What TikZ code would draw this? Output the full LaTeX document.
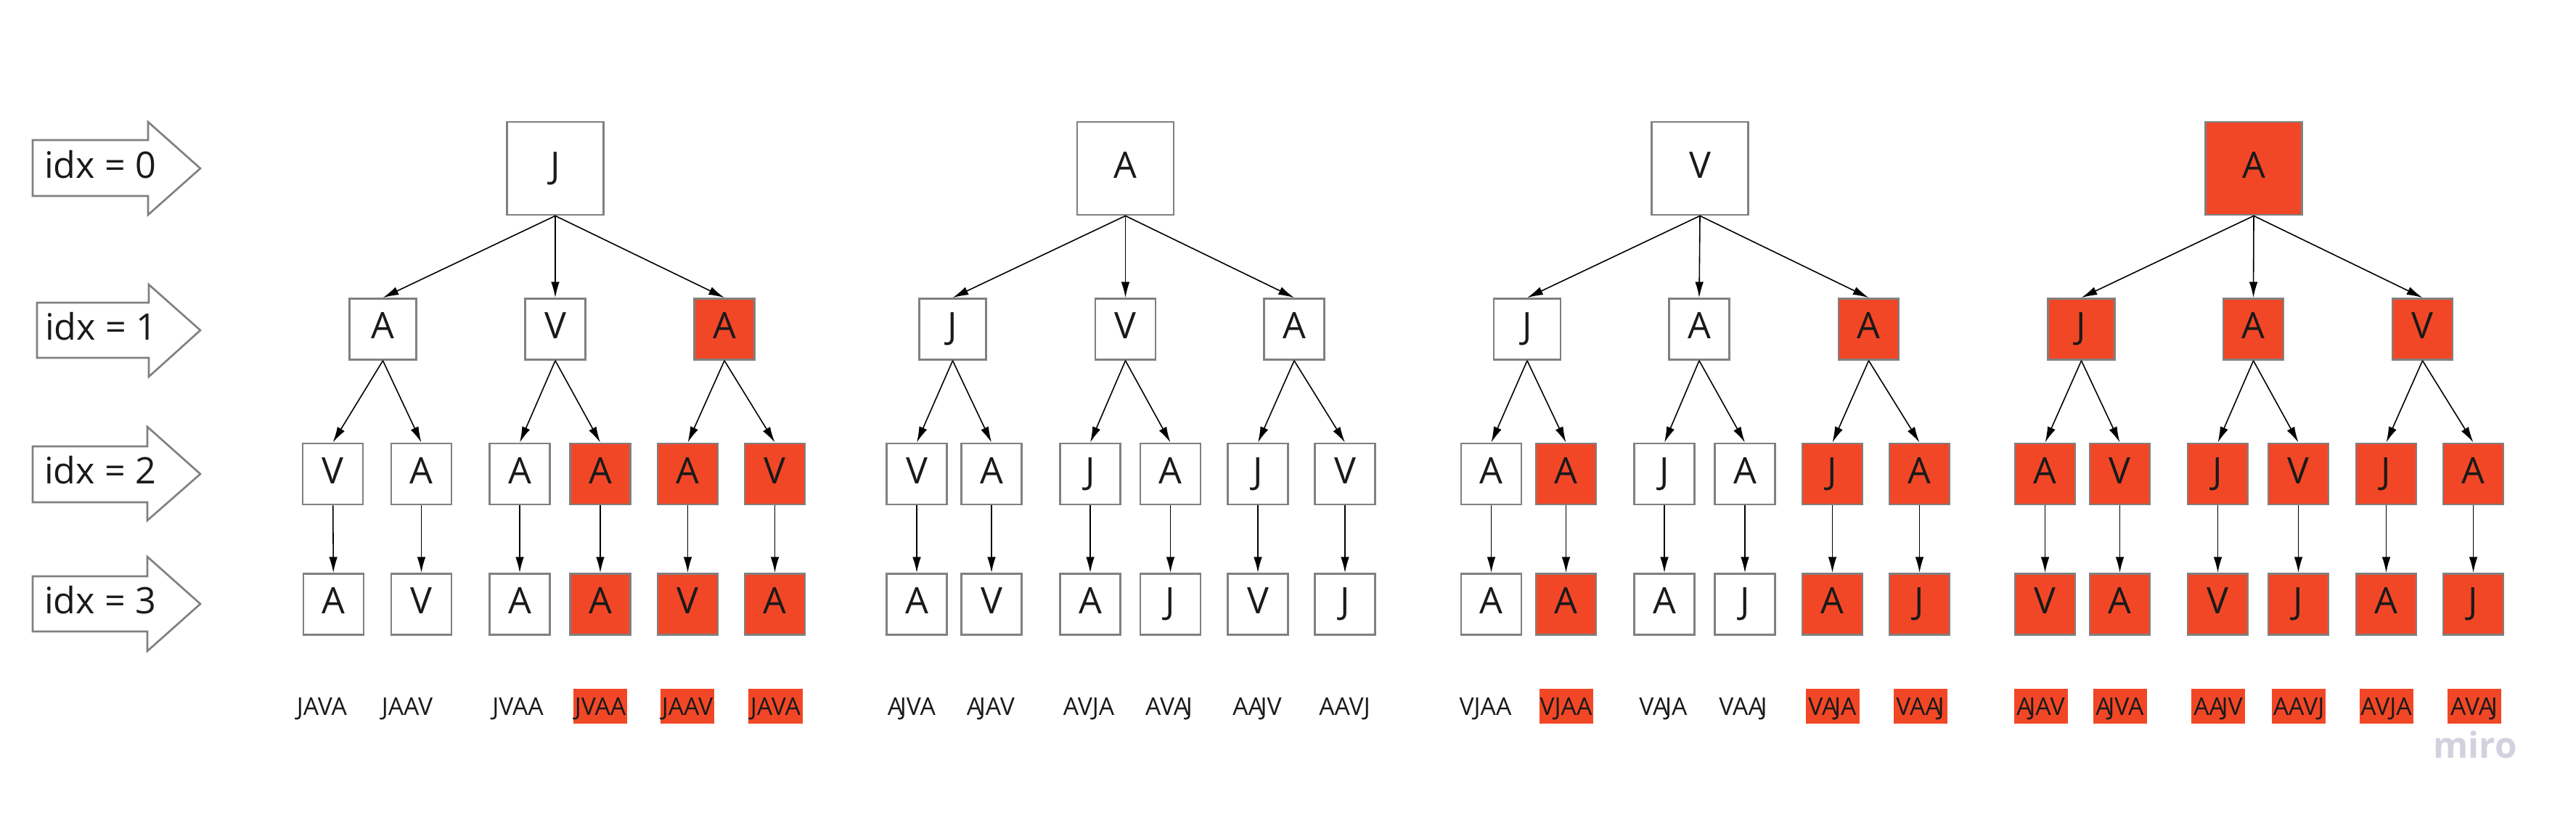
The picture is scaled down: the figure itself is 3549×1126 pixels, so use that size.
\documentclass[tikz,border=0pt]{standalone}
\usepackage{fontspec}
\setmainfont{Open Sans}
\usetikzlibrary{arrows.meta}
\definecolor{miroRed}{HTML}{F24726}
\definecolor{boxGray}{HTML}{808080}
\definecolor{inkBlack}{HTML}{1A1A1A}
\definecolor{miroMark}{HTML}{D2D2DE}
\newcommand\letterfont{\fontsize{14.3pt}{17pt}\selectfont}
\newcommand\wordfont{\fontsize{9.6pt}{11pt}\selectfont}
\newcommand\aj{A\kern-0.13em J}
\tikzset{
  box/.style={draw=boxGray, line width=0.75pt, fill=white, inner sep=0pt,
    minimum width=0.83cm, minimum height=0.84cm, font=\letterfont,
    text=inkBlack, text height=10.3pt, text depth=2.85pt},
  rootbox/.style={box, minimum width=1.33cm, minimum height=1.28cm},
  widebox/.style={box, minimum width=0.92cm},
  hit/.style={fill=miroRed},
  word/.style={inner sep=0pt, font=\wordfont, text=inkBlack, text height=6.85pt,
    text depth=0pt, minimum width=0.74cm, minimum height=0.48cm},
  hitword/.style={word, fill=miroRed},
  arr/.style={-{Latex[length=6.2pt,width=3.3pt]}, line width=0.45pt, draw=black},
  idxshape/.style={draw=boxGray, line width=0.75pt, fill=white},
  idxtext/.style={font=\letterfont, text=inkBlack, inner sep=0pt,
    text height=10.8pt, text depth=3.4pt}
}

\begin{document}
\begin{tikzpicture}[x=0.01cm, y=-0.01cm]
  \path[use as bounding box, fill=white] (0,0) rectangle (3549,1126);

  % level markers
  \draw[idxshape] (45,193) -- (204,193) -- (204,168) -- (276,232) -- (204,296) -- (204,270) -- (45,270) -- cycle;
  \node[idxtext] (idx0) at (138,232) {idx = 0};
  \draw[idxshape] (51,417) -- (205,417) -- (205,392) -- (276,455) -- (205,519) -- (205,493) -- (51,493) -- cycle;
  \node[idxtext] (idx1) at (139,455) {idx = 1};
  \draw[idxshape] (45,615) -- (203,615) -- (203,588) -- (276,653) -- (203,717) -- (203,692) -- (45,692) -- cycle;
  \node[idxtext] (idx2) at (138,653) {idx = 2};
  \draw[idxshape] (45,794) -- (203,794) -- (203,767) -- (276,832) -- (203,897) -- (203,870) -- (45,870) -- cycle;
  \node[idxtext] (idx3) at (138,832) {idx = 3};

  % tree J
  \node[rootbox] (t1) at (765,232) {J};
  \node[widebox] (t1a) at (527.5,453.5) {A};
  \node[box] (t1b) at (765,453.5) {V};
  \node[box,hit] (t1c) at (998,453.5) {A};
  \node[box] (t1a1) at (458.5,653) {V};
  \node[box] (t1a2) at (580.5,653) {A};
  \node[box] (t1b1) at (716,653) {A};
  \node[box,hit] (t1b2) at (827,653) {A};
  \node[box,hit] (t1c1) at (947.5,653) {A};
  \node[box,hit] (t1c2) at (1067.5,653) {V};
  \node[box] (t1a1d) at (459.5,832.5) {A};
  \node[box] (t1a2d) at (580.5,832.5) {V};
  \node[box] (t1b1d) at (716,832.5) {A};
  \node[box,hit] (t1b2d) at (827,832.5) {A};
  \node[box,hit] (t1c1d) at (947.5,832.5) {V};
  \node[box,hit] (t1c2d) at (1067.5,832.5) {A};
  \node[word] (w1a1) at (443.5,973) {JAVA};
  \node[word] (w1a2) at (561,973) {JAAV};
  \node[word] (w1b1) at (713.5,973) {JVAA};
  \node[hitword] (w1b2) at (827,973) {JVAA};
  \node[hitword] (w1c1) at (947,973) {JAAV};
  \node[hitword] (w1c2) at (1068.5,973) {JAVA};

  % tree A
  \node[rootbox] (t2) at (1550.5,232) {A};
  \node[widebox] (t2a) at (1312.5,453.5) {J};
  \node[box] (t2b) at (1550.5,453.5) {V};
  \node[box] (t2c) at (1783,453.5) {A};
  \node[box] (t2a1) at (1263,653) {V};
  \node[box] (t2a2) at (1366,653) {A};
  \node[box] (t2b1) at (1502,653) {J};
  \node[box] (t2b2) at (1612.5,653) {A};
  \node[box] (t2c1) at (1733,653) {J};
  \node[box] (t2c2) at (1853,653) {V};
  \node[box] (t2a1d) at (1263,832.5) {A};
  \node[box] (t2a2d) at (1366,832.5) {V};
  \node[box] (t2b1d) at (1502,832.5) {A};
  \node[box] (t2b2d) at (1612.5,832.5) {J};
  \node[box] (t2c1d) at (1733,832.5) {V};
  \node[box] (t2c2d) at (1853,832.5) {J};
  \node[word] (w2a1) at (1256,973) {\aj VA};
  \node[word] (w2a2) at (1365,973) {\aj AV};
  \node[word] (w2b1) at (1500,973) {AVJA};
  \node[word] (w2b2) at (1610.5,973) {AV\aj};
  \node[word] (w2c1) at (1732,973) {A\aj V};
  \node[word] (w2c2) at (1852.5,973) {AAVJ};

  % tree V
  \node[rootbox] (t3) at (2342,232) {V};
  \node[widebox] (t3a) at (2104,453.5) {J};
  \node[box] (t3b) at (2341,453.5) {A};
  \node[box,hit] (t3c) at (2574.5,453.5) {A};
  \node[box] (t3a1) at (2054.5,653) {A};
  \node[box,hit] (t3a2) at (2157.5,653) {A};
  \node[box] (t3b1) at (2293,653) {J};
  \node[box] (t3b2) at (2404,653) {A};
  \node[box,hit] (t3c1) at (2524.5,653) {J};
  \node[box,hit] (t3c2) at (2644.5,653) {A};
  \node[box] (t3a1d) at (2054.5,832.5) {A};
  \node[box,hit] (t3a2d) at (2157.5,832.5) {A};
  \node[box] (t3b1d) at (2293,832.5) {A};
  \node[box] (t3b2d) at (2404,832.5) {J};
  \node[box,hit] (t3c1d) at (2524.5,832.5) {A};
  \node[box,hit] (t3c2d) at (2644.5,832.5) {J};
  \node[word] (w3a1) at (2046.5,973) {VJAA};
  \node[hitword] (w3a2) at (2157.5,973) {VJAA};
  \node[word] (w3b1) at (2291.5,973) {V\aj A};
  \node[word] (w3b2) at (2401.5,973) {VA\aj};
  \node[hitword] (w3c1) at (2524.5,973) {V\aj A};
  \node[hitword] (w3c2) at (2645.5,973) {VA\aj};

  % tree A (second)
  \node[rootbox,hit] (t4) at (3105,232) {A};
  \node[widebox,hit] (t4a) at (2867.5,453.5) {J};
  \node[box,hit] (t4b) at (3104.5,453.5) {A};
  \node[box,hit] (t4c) at (3337.5,453.5) {V};
  \node[box,hit] (t4a1) at (2817.5,653) {A};
  \node[box,hit] (t4a2) at (2920.5,653) {V};
  \node[box,hit] (t4b1) at (3055.5,653) {J};
  \node[box,hit] (t4b2) at (3166.5,653) {V};
  \node[box,hit] (t4c1) at (3287.5,653) {J};
  \node[box,hit] (t4c2) at (3407.5,653) {A};
  \node[box,hit] (t4a1d) at (2817.5,832.5) {V};
  \node[box,hit] (t4a2d) at (2920.5,832.5) {A};
  \node[box,hit] (t4b1d) at (3055.5,832.5) {V};
  \node[box,hit] (t4b2d) at (3166.5,832.5) {J};
  \node[box,hit] (t4c1d) at (3287.5,832.5) {A};
  \node[box,hit] (t4c2d) at (3407.5,832.5) {J};
  \node[hitword] (w4a1) at (2811.5,973) {\aj AV};
  \node[hitword] (w4a2) at (2920.5,973) {\aj VA};
  \node[hitword] (w4b1) at (3056,973) {A\aj V};
  \node[hitword] (w4b2) at (3167,973) {AAVJ};
  \node[hitword] (w4c1) at (3287.5,973) {AVJA};
  \node[hitword] (w4c2) at (3408.5,973) {AV\aj};

  % arrows
  \path (t1.south) edge[arr] (t1a.north) edge[arr] (t1b.north) edge[arr] (t1c.north);
  \path (t1a.south) edge[arr] (t1a1.north) edge[arr] (t1a2.north);
  \path (t1b.south) edge[arr] (t1b1.north) edge[arr] (t1b2.north);
  \path (t1c.south) edge[arr] (t1c1.north) edge[arr] (t1c2.north);
  \draw[arr] (t1a1) -- (t1a1d); \draw[arr] (t1a2) -- (t1a2d);
  \draw[arr] (t1b1) -- (t1b1d); \draw[arr] (t1b2) -- (t1b2d);
  \draw[arr] (t1c1) -- (t1c1d); \draw[arr] (t1c2) -- (t1c2d);

  \path (t2.south) edge[arr] (t2a.north) edge[arr] (t2b.north) edge[arr] (t2c.north);
  \path (t2a.south) edge[arr] (t2a1.north) edge[arr] (t2a2.north);
  \path (t2b.south) edge[arr] (t2b1.north) edge[arr] (t2b2.north);
  \path (t2c.south) edge[arr] (t2c1.north) edge[arr] (t2c2.north);
  \draw[arr] (t2a1) -- (t2a1d); \draw[arr] (t2a2) -- (t2a2d);
  \draw[arr] (t2b1) -- (t2b1d); \draw[arr] (t2b2) -- (t2b2d);
  \draw[arr] (t2c1) -- (t2c1d); \draw[arr] (t2c2) -- (t2c2d);

  \path (t3.south) edge[arr] (t3a.north) edge[arr] (t3b.north) edge[arr] (t3c.north);
  \path (t3a.south) edge[arr] (t3a1.north) edge[arr] (t3a2.north);
  \path (t3b.south) edge[arr] (t3b1.north) edge[arr] (t3b2.north);
  \path (t3c.south) edge[arr] (t3c1.north) edge[arr] (t3c2.north);
  \draw[arr] (t3a1) -- (t3a1d); \draw[arr] (t3a2) -- (t3a2d);
  \draw[arr] (t3b1) -- (t3b1d); \draw[arr] (t3b2) -- (t3b2d);
  \draw[arr] (t3c1) -- (t3c1d); \draw[arr] (t3c2) -- (t3c2d);

  \path (t4.south) edge[arr] (t4a.north) edge[arr] (t4b.north) edge[arr] (t4c.north);
  \path (t4a.south) edge[arr] (t4a1.north) edge[arr] (t4a2.north);
  \path (t4b.south) edge[arr] (t4b1.north) edge[arr] (t4b2.north);
  \path (t4c.south) edge[arr] (t4c1.north) edge[arr] (t4c2.north);
  \draw[arr] (t4a1) -- (t4a1d); \draw[arr] (t4a2) -- (t4a2d);
  \draw[arr] (t4b1) -- (t4b1d); \draw[arr] (t4b2) -- (t4b2d);
  \draw[arr] (t4c1) -- (t4c1d); \draw[arr] (t4c2) -- (t4c2d);

  \node[anchor=base, text=miroMark, font=\fontsize{14pt}{17pt}\selectfont\bfseries, inner sep=0pt] (miro) at (3410,1044) {miro};
\end{tikzpicture}
\end{document}
